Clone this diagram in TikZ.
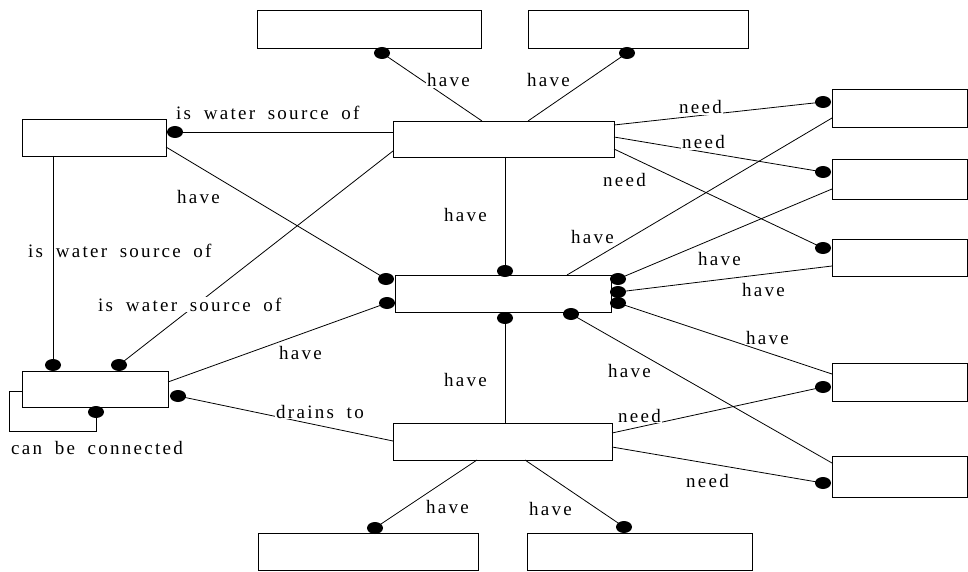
\documentclass[tikz,border=0pt]{standalone}
\usepackage{fontspec}
\setmainfont{Liberation Serif}[LetterSpace=12.0, WordSpace=1.8]
\usetikzlibrary{shapes.geometric}
\tikzset{
  box/.style={draw, rectangle, inner sep=0pt, outer sep=0pt, line width=0.9pt, fill=white},
  dot/.style={ellipse, fill=black, draw=none, minimum width=16pt, minimum height=12pt, inner sep=0pt},
  lbl/.style={anchor=base west, inner sep=1pt, fill=white, font=\fontsize{19}{22}\selectfont},
  lblclear/.style={anchor=base west, inner sep=0pt, font=\fontsize{19}{22}\selectfont},
  conn/.style={line width=0.8pt}
}
\begin{document}
\begin{tikzpicture}[x=1pt,y=-1pt]
\useasboundingbox (0,0) rectangle (968,572);
% boxes
\node[box, minimum width=224pt, minimum height=38pt] (A) at (369,29) {};
\node[box, minimum width=220pt, minimum height=38pt] (B) at (638,29) {};
\node[box, minimum width=221pt, minimum height=36pt] (C) at (503.5,139) {};
\node[box, minimum width=144pt, minimum height=37pt] (D) at (94,137.5) {};
\node[box, minimum width=216pt, minimum height=37pt] (E) at (503,293.5) {};
\node[box, minimum width=146pt, minimum height=36pt] (F) at (95,389) {};
\node[box, minimum width=219pt, minimum height=37pt] (G) at (502.5,441.5) {};
\node[box, minimum width=220pt, minimum height=37pt] (H) at (368,551.5) {};
\node[box, minimum width=225pt, minimum height=37pt] (I) at (639.5,551.5) {};
\node[box, minimum width=135pt, minimum height=38pt] (R1) at (899.5,108) {};
\node[box, minimum width=135pt, minimum height=40pt] (R2) at (899.5,179) {};
\node[box, minimum width=135pt, minimum height=37pt] (R3) at (899.5,257.5) {};
\node[box, minimum width=135pt, minimum height=38pt] (R4) at (899.5,382) {};
\node[box, minimum width=135pt, minimum height=41pt] (R5) at (899.5,476.5) {};
% dot positions
\coordinate (dA) at (382,53);
\coordinate (dB) at (627,53);
\coordinate (dD) at (175,132);
\coordinate (dE1) at (386,279);
\coordinate (dE2) at (387,303);
\coordinate (dE3) at (505,271);
\coordinate (dE4) at (505,318);
\coordinate (dE5) at (618,279);
\coordinate (dE6) at (618,292);
\coordinate (dE7) at (618,303);
\coordinate (dE8) at (571,314);
\coordinate (dF1) at (53,365);
\coordinate (dF2) at (119,365);
\coordinate (dF3) at (178,396);
\coordinate (dF4) at (96,412);
\coordinate (dR1) at (823,102);
\coordinate (dR2) at (823,172);
\coordinate (dR3) at (823,248);
\coordinate (dR4) at (823,387);
\coordinate (dR5) at (823,483);
\coordinate (dH) at (375,528);
\coordinate (dI) at (624,527);
% connectors
\begin{scope}[conn]
\draw (dA) -- ([xshift=89pt]C.north west);
\draw (dB) -- ([xshift=135pt]C.north west);
\draw (dD) -- ([yshift=-11pt]C.north west);
\draw ([yshift=-28pt]D.north east) -- (dE1);
\draw ([xshift=31pt]D.south west) -- (dF1);
\draw ([yshift=-30pt]C.north west) -- (dF2);
\draw ([yshift=-11pt]F.north east) -- (dE2);
\draw (dF3) -- ([yshift=-18pt]G.north west);
\draw ([yshift=-20pt]F.north west) -- ++(-13,0) -- ++(0,40) -| (dF4);
\draw ([xshift=112pt]C.south west) -- (dE3);
\draw (dE4) -- ([xshift=112pt]G.north west);
\draw ([yshift=-4pt]C.north east) -- (dR1);
\draw ([yshift=-16pt]C.north east) -- (dR2);
\draw ([yshift=-28pt]C.north east) -- (dR3);
\draw ([xshift=172pt]E.north west) -- ([yshift=-29pt]R1.north west);
\draw (dE5) -- ([yshift=-30pt]R2.north west);
\draw (dE6) -- ([yshift=-27pt]R3.north west);
\draw (dE7) -- ([yshift=-11pt]R4.north west);
\draw (dE8) -- ([yshift=-7pt]R5.north west);
\draw ([yshift=-10pt]G.north east) -- (dR4);
\draw ([yshift=-24pt]G.north east) -- (dR5);
\draw ([xshift=84pt]G.south west) -- (dH);
\draw ([xshift=132pt]G.south west) -- (dI);
\end{scope}
% dots
\foreach \d in {dA,dB,dD,dE1,dE2,dE3,dE4,dE5,dE6,dE7,dE8,dF1,dF2,dF3,dF4,dR1,dR2,dR3,dR4,dR5,dH,dI}
  \node[dot] at (\d) {};
% labels
\node[lbl] (l1) at (426,87) {have};
\node[lbl] (l2) at (526,87) {have};
\node[lbl] (l3) at (175,120) {is water source of};
\node[lbl] (l4) at (176,203) {have};
\node[lblclear] (l5) at (28,257) {is water source of};
\node[lbl] (l6) at (97,311) {is water source of};
\node[lbl] (l7) at (278,359) {have};
\node[lbl] (l8) at (275,418) {drains to};
\node[lbl] (l9) at (10,454) {can be connected};
\node[lbl] (l10) at (443,221) {have};
\node[lbl] (l11) at (443,386) {have};
\node[lbl] (l12) at (678,114) {need};
\node[lbl] (l13) at (681,149) {need};
\node[lbl] (l14) at (602,186) {need};
\node[lbl] (l15) at (570,243) {have};
\node[lbl] (l16) at (697,265) {have};
\node[lbl] (l17) at (741,296) {have};
\node[lbl] (l18) at (745,344) {have};
\node[lbl] (l19) at (607,377) {have};
\node[lbl] (l20) at (617,422) {need};
\node[lbl] (l21) at (685,487) {need};
\node[lbl] (l22) at (425,513) {have};
\node[lbl] (l23) at (528,515) {have};
\end{tikzpicture}
\end{document}
